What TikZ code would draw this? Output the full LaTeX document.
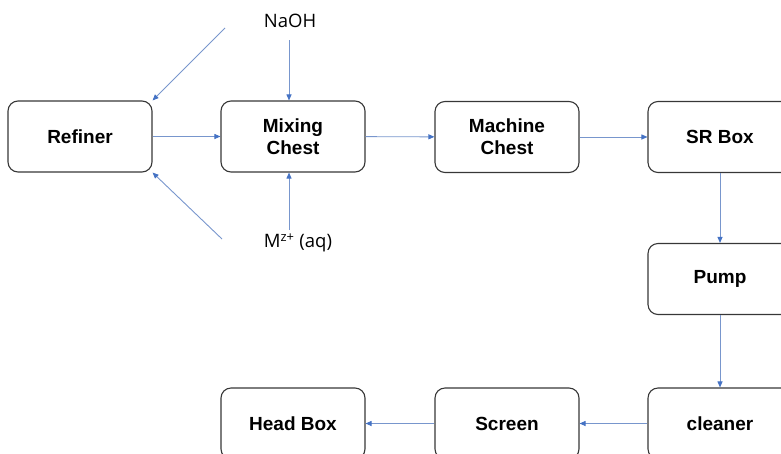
\documentclass[tikz,border=0pt]{standalone}
\usepackage{fontspec}
\setmainfont{Liberation Sans}
\newfontfamily\lightfont{Open Sans}
\usetikzlibrary{arrows.meta}
\definecolor{arrowblue}{RGB}{120,150,205}
\definecolor{tipblue}{RGB}{68,114,196}
\definecolor{boxgray}{RGB}{55,55,55}
\begin{document}
\begin{tikzpicture}[x=1pt,y=-1pt,
  procbox/.style={draw=boxgray, line width=1.1pt, rounded corners=10pt,
    minimum width=144pt, minimum height=71pt, inner sep=0pt,
    align=center, font=\fontsize{19}{22}\selectfont\bfseries},
  feedlabel/.style={inner sep=1pt, font=\lightfont\fontsize{18.5}{22}\selectfont},
  flow/.style={draw=arrowblue, line width=0.9pt,
    -{Triangle[length=6pt,width=5pt,color=tipblue]}}]
\useasboundingbox (0,0) rectangle (781,453);
\node[procbox] (refiner) at (80,136.5) {Refiner};
\node[procbox] (mixing) at (293,136.5) {Mixing\\Chest};
\node[procbox] (machine) at (507,137) {Machine\\Chest};
\node[procbox] (srbox) at (720,137) {SR Box};
\node[procbox] (pump) at (720,279) {Pump};
\node[procbox] (cleaner) at (720,423.5) {cleaner};
\node[procbox] (screen) at (507,423.5) {Screen};
\node[procbox] (headbox) at (293,423.5) {Head Box};
\node[feedlabel] (naoh) at (290,21) {NaOH};
\node[feedlabel] (mz) at (298,243) {M\textsuperscript{z+} (aq)};
\coordinate (topfeed) at (225,28);
\coordinate (botfeed) at (222,239);
\coordinate (naohend) at (289,40);
\coordinate (mzend) at (289,230);
\draw[flow] (refiner) -- (mixing);
\draw[flow] (mixing) -- (machine);
\draw[flow] (machine) -- (srbox);
\draw[flow] (srbox) -- (pump);
\draw[flow] (pump) -- (cleaner);
\draw[flow] (cleaner) -- (screen);
\draw[flow] (screen) -- (headbox);
\draw[flow] (naohend) -- (mixing.north -| naohend);
\draw[flow] (mzend) -- (mixing.south -| mzend);
\draw[flow] (topfeed) -- (refiner.north east);
\draw[flow] (botfeed) -- (refiner.south east);
\end{tikzpicture}
\end{document}
